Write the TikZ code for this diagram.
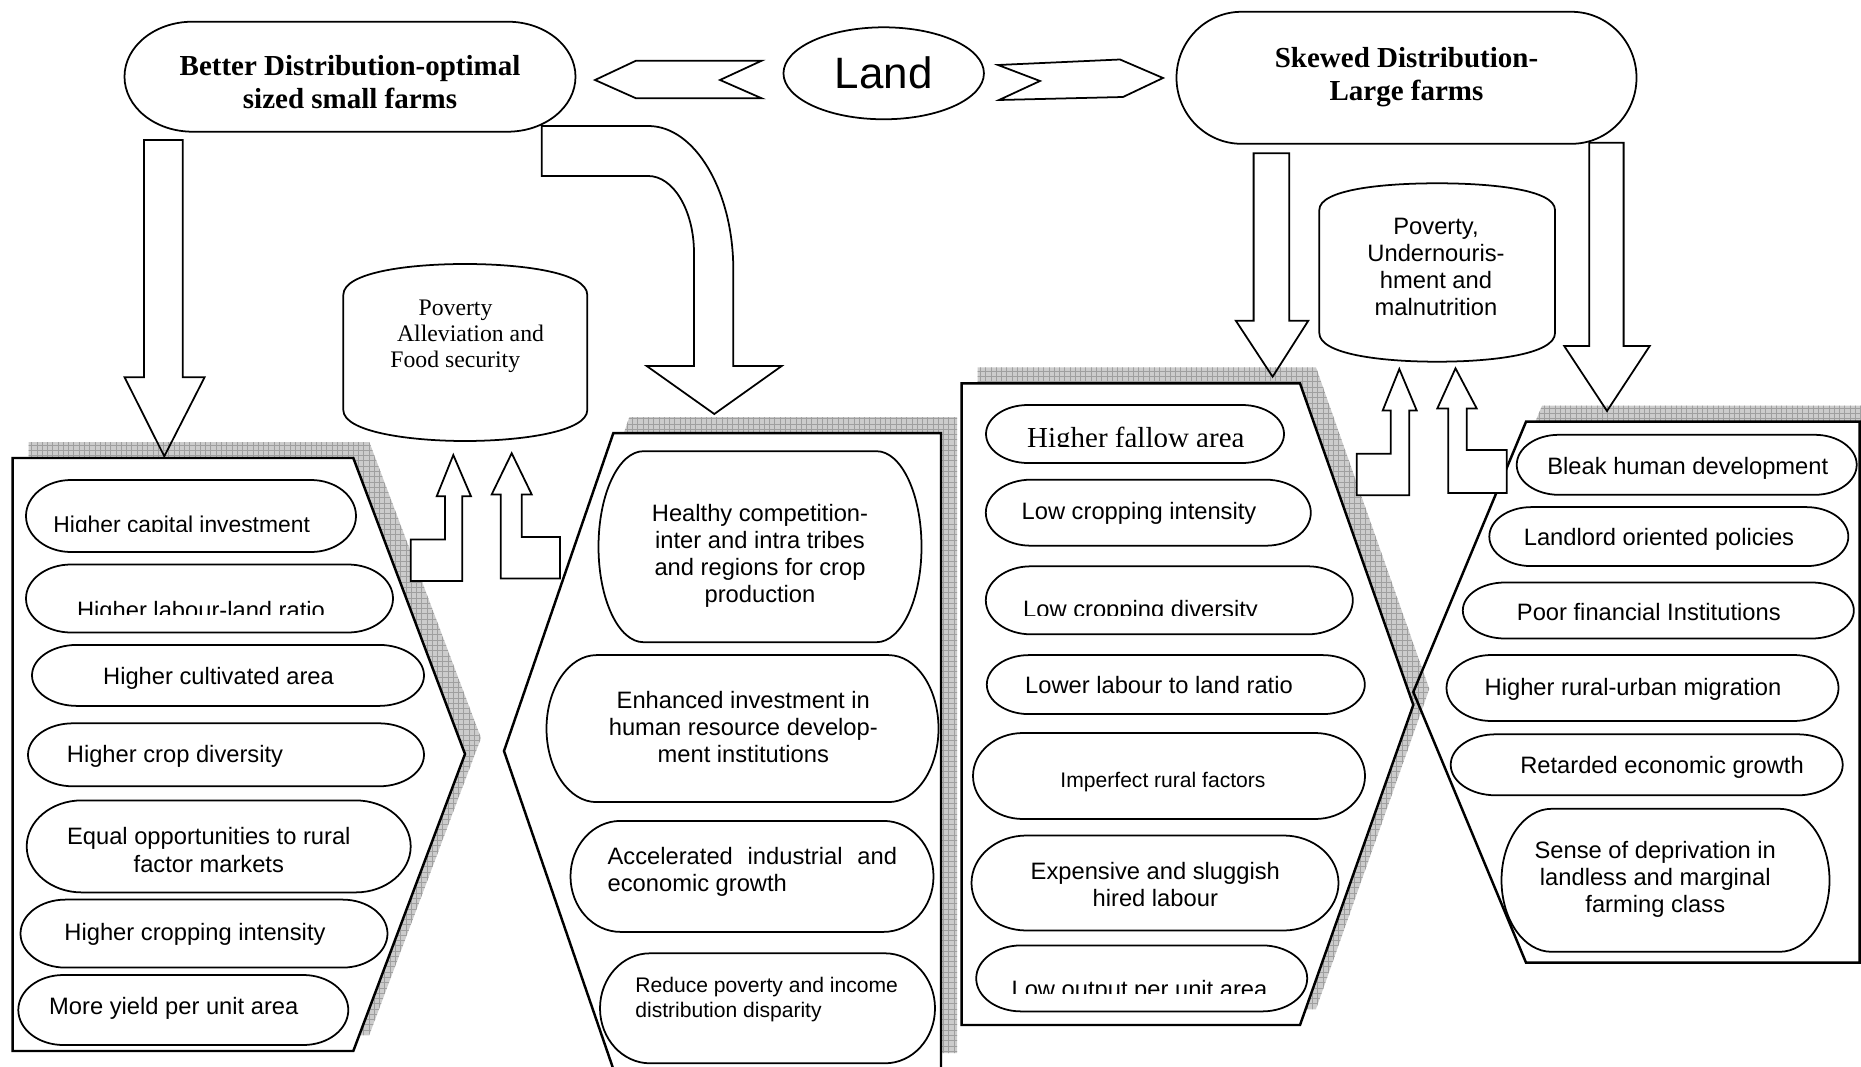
\documentclass[tikz,border=0pt]{standalone}
\usepackage{fontspec}
\setmainfont{Liberation Serif}
\setsansfont{Liberation Sans}
\usetikzlibrary{patterns, shapes.geometric}
\tikzset{
  ovalline/.style={draw, line width=1pt},
  blockarrow/.style={draw, line width=1pt, line join=miter},
  panelbox/.style={draw, line width=1.4pt, fill=white},
  shadowfill/.style={fill=gray!40, postaction={pattern=grid, pattern color=gray!75}},
  itemtxt/.style={font=\sffamily\fontsize{13.5}{15.4}\selectfont, align=center, inner sep=0pt},
  smalltxt/.style={itemtxt, font=\sffamily\fontsize{12}{14.5}\selectfont},
  headtxt/.style={font=\bfseries\fontsize{16.5}{18.8}\selectfont, align=center, inner sep=0pt},
  seriftxt/.style={font=\fontsize{13.5}{14.7}\selectfont, inner sep=0pt},
  pics/oval/.style n args={3}{code={
    \draw[ovalline] (-#1/2+#3,-#2/2) -- (#1/2-#3,-#2/2)
      .. controls (#1/2-0.448*#3,-#2/2) and (#1/2,-0.276*#2) .. (#1/2,0)
      .. controls (#1/2,0.276*#2) and (#1/2-0.448*#3,#2/2) .. (#1/2-#3,#2/2)
      -- (-#1/2+#3,#2/2)
      .. controls (-#1/2+0.448*#3,#2/2) and (-#1/2,0.276*#2) .. (-#1/2,0)
      .. controls (-#1/2,-0.276*#2) and (-#1/2+0.448*#3,-#2/2) .. (-#1/2+#3,-#2/2) -- cycle;
  }}
}
\begin{document}
\begin{tikzpicture}[x=0.02cm, y=-0.02cm]
\useasboundingbox (0,0) rectangle (1861,1067);
\clip (0,0) rectangle (1861,1067);

% shadows of the panels
\fill[shadowfill, shift={(16,-16)}] (12.7,458) -- (353.3,458) -- (465,754) -- (353.3,1051) -- (12.7,1051) -- cycle;
\fill[shadowfill, shift={(16,-16)}] (613.3,433.2) -- (941,433.2) -- (941,1069) -- (613.3,1069) -- (504,751) -- cycle;
\fill[shadowfill, shift={(16,-16)}] (1526,421.7) -- (1880,421.7) -- (1880,962.7) -- (1526,962.7) -- (1413.3,692) -- cycle;
% last panel: white body first, its outline after the next shadow
\fill[white] (1526,421.7) -- (1859.5,421.7) -- (1859.5,962.7) -- (1526,962.7) -- (1413.3,692) -- cycle;
\fill[shadowfill, shift={(16,-16)}] (961.7,383.4) -- (1300,383.4) -- (1413.3,704.9) -- (1300,1025) -- (961.7,1025) -- cycle;

% panels
\draw[panelbox, fill=none] (1526,421.7) -- (1859.5,421.7) -- (1859.5,962.7) -- (1526,962.7) -- (1413.3,692) -- cycle;
\draw[panelbox] (12.7,458) -- (353.3,458) -- (465,754) -- (353.3,1051) -- (12.7,1051) -- cycle;
\draw[panelbox] (613.3,433.2) -- (941,433.2) -- (941,1069) -- (613.3,1069) -- (504,751) -- cycle;
\draw[panelbox] (961.7,383.4) -- (1300,383.4) -- (1413.3,704.9) -- (1300,1025) -- (961.7,1025) -- cycle;

% top row
\pic at (350,76.7) {oval={451}{110}{68}};
\node[headtxt] (better) at (350,82) {Better Distribution-optimal\\sized small farms};
\pic at (1406.5,77.8) {oval={460}{132}{65}};
\node[headtxt] (skewed) at (1406.5,77.5) {Skewed Distribution-\\Large farms};
\node[draw, ellipse, line width=1pt, minimum width=4.01cm, minimum height=1.84cm, inner sep=0pt,
  font=\sffamily\fontsize{25}{30}\selectfont] (land) at (883.7,73.3) {Land};
\draw[blockarrow] (595,80) -- (636,60.7) -- (761.7,60.7) -- (720,80) -- (761.7,98.3) -- (636,98.3) -- cycle;
\draw[blockarrow] (998,65) -- (1120,59.5) -- (1163,78) -- (1123,97) -- (999,100) -- (1040,81) -- cycle;

% cylinders
\draw[ovalline] (343.3,410) -- (343.3,295) .. controls (343.3,272) and (410,264) .. (465,264)
  .. controls (520,264) and (587.3,272) .. (587.3,295) -- (587.3,410)
  .. controls (587.3,432) and (520,441) .. (465,441) .. controls (410,441) and (343.3,432) .. (343.3,410) -- cycle;
\node[seriftxt, align=left, anchor=west] (alleviation) at (390,336)
  {\hspace*{0.566cm}Poverty\\\hspace*{0.134cm}Alleviation and\\Food security};
\draw[ovalline] (1319.3,333) -- (1319.3,210) .. controls (1319.3,190) and (1380,183.3) .. (1437.2,183.3)
  .. controls (1494,183.3) and (1555,190) .. (1555,210) -- (1555,333)
  .. controls (1555,354) and (1494,361.7) .. (1437.2,361.7) .. controls (1380,361.7) and (1319.3,354) .. (1319.3,333) -- cycle;
\node[itemtxt] (malnutrition) at (1436,267) {Poverty,\\Undernouris-\\hment and\\malnutrition};

% left panel
\pic at (191,516) {oval={330}{72}{45}};
\begin{scope}
  \clip (0,495) rectangle (400,531.5);
  \node[itemtxt, font=\sffamily\fontsize{13}{15}\selectfont, anchor=base] (capital) at (181.7,532) {Higher capital investment};
\end{scope}
\pic at (209.5,598.5) {oval={367}{68}{45}};
\begin{scope}
  \clip (0,580) rectangle (400,614);
  \node[itemtxt, anchor=base] (labour) at (201,618) {Higher labour-land ratio};
\end{scope}
\pic at (228,675.4) {oval={392}{61}{45}};
\node[itemtxt, anchor=base] (cultivated) at (218.5,684.3) {Higher cultivated area};
\pic at (226,754.8) {oval={396}{63}{45}};
\node[itemtxt, anchor=base] (diversity) at (175,762) {Higher crop diversity};
\pic at (218.7,846.4) {oval={384}{92}{55}};
\node[itemtxt] (equal) at (208.8,850) {Equal opportunities to rural\\factor markets};
\pic at (204,933.6) {oval={367}{68}{45}};
\node[itemtxt, anchor=base] (intensity) at (195,940.2) {Higher cropping intensity};
\pic at (183.3,1010) {oval={330}{70}{45}};
\node[itemtxt, anchor=base] (yield) at (173.8,1014.4) {More yield per unit area};

% middle panel
\pic at (760,546.7) {oval={323}{191}{45}};
\node[itemtxt] (healthy) at (760,555.7) {Healthy competition-\\inter and intra tribes\\and regions for crop\\production};
\pic at (742.5,728.6) {oval={392}{147}{50}};
\node[itemtxt] (enhanced) at (743.3,727.2) {Enhanced investment in\\human resource develop-\\ment institutions};
\pic at (752,876.4) {oval={363}{111}{50}};
\node[itemtxt, align=left, anchor=west] (accelerated) at (607.3,871.7)
  {\makebox[5.788cm][s]{Accelerated industrial and}\\economic growth};
\pic at (767.5,1008.3) {oval={335}{110}{50}};
\node[smalltxt, align=left, anchor=west] (reduce) at (635,999.7) {Reduce poverty and income\\distribution disparity};

% right panel, first column
\pic at (1135,434) {oval={298}{58}{42}};
\begin{scope}
  \clip (980,415) rectangle (1290,446.5);
  \node[seriftxt, font=\fontsize{16.5}{18}\selectfont, anchor=base] (fallow) at (1135.8,447) {Higher fallow area};
\end{scope}
\pic at (1148.3,512.7) {oval={325}{66}{45}};
\node[itemtxt, anchor=base] (lowint) at (1139,519.6) {Low cropping intensity};
\pic at (1169.3,600.3) {oval={367}{68}{45}};
\begin{scope}
  \clip (980,585) rectangle (1350,615.8);
  \node[itemtxt, anchor=base] (lowdiv) at (1140.5,617) {Low cropping diversity};
\end{scope}
\pic at (1175.8,684.6) {oval={378}{59}{42}};
\node[itemtxt, anchor=base] (lowlab) at (1159,693.2) {Lower labour to land ratio};
\pic at (1169,776) {oval={392}{86}{50}};
\node[smalltxt, anchor=base] (imperfect) at (1163,787) {Imperfect rural factors};
\pic at (1155,883) {oval={367}{95}{55}};
\node[itemtxt] (expensive) at (1155.3,884.8) {Expensive and sluggish\\hired labour};
\pic at (1141.7,978.4) {oval={331}{66}{45}};
\begin{scope}
  \clip (980,965) rectangle (1300,993.5);
  \node[itemtxt, anchor=base] (lowout) at (1139.5,997) {Low output per unit area};
\end{scope}

% right panel, second column
\pic at (1686.7,464.8) {oval={340}{60}{42}};
\node[itemtxt, anchor=base] (bleak) at (1687.8,474) {Bleak human development};
\pic at (1668.8,536.6) {oval={359}{59}{42}};
\node[itemtxt, anchor=base] (landlord) at (1659,545.5) {Landlord oriented policies};
\pic at (1658.3,610.5) {oval={391}{56}{42}};
\node[itemtxt, anchor=base] (financial) at (1648.8,620.9) {Poor financial Institutions};
\pic at (1642.5,688) {oval={392}{66}{45}};
\node[itemtxt, anchor=base] (migration) at (1633,695.3) {Higher rural-urban migration};
\pic at (1646.7,764.8) {oval={392}{61}{45}};
\node[itemtxt, anchor=base] (retarded) at (1662,773.4) {Retarded economic growth};
\pic at (1665.5,880.3) {oval={328}{143}{50}};
\node[itemtxt] (sense) at (1655.3,879.6) {Sense of deprivation in\\landless and marginal\\farming class};

% block arrows down
\draw[blockarrow] (144,140) -- (182.7,140) -- (182.7,377.3) -- (204.6,377.3) -- (164.3,456.3) -- (124.6,377.3) -- (144,377.3) -- cycle;
\draw[blockarrow] (541.7,126) -- (648.3,126) .. controls (695,126) and (733.3,191) .. (733.3,270) -- (733.3,366)
  -- (781.7,366) -- (714.3,414) -- (646.7,366) -- (694,366) -- (694,253)
  .. controls (694,210.6) and (673.4,176) .. (648.3,176) -- (541.7,176) -- cycle;
\draw[blockarrow] (1253.6,153.3) -- (1289.3,153.3) -- (1289.3,320.7) -- (1308.3,320.7) -- (1272.6,376.7) -- (1235.8,320.7) -- (1253.6,320.7) -- cycle;
\draw[blockarrow] (1589.2,142.7) -- (1623.6,142.7) -- (1623.6,346) -- (1649.7,346) -- (1607,411) -- (1564.2,346) -- (1589.2,346) -- cycle;

% bent arrows up into the cylinders
\draw[blockarrow, fill=white] (453.3,455) -- (471,496.3) -- (462.3,496.3) -- (462.3,581) -- (410.7,581) -- (410.7,539.6) -- (445,539.6) -- (445,496.3) -- (436.7,496.3) -- cycle;
\draw[blockarrow, fill=white] (511.7,453.2) -- (531.7,494.4) -- (521.7,494.4) -- (521.7,537) -- (560,537) -- (560,578.6) -- (500.7,578.6) -- (500.7,494.4) -- (491.7,494.4) -- cycle;
\draw[blockarrow, fill=white] (1399.3,369) -- (1416.7,410.5) -- (1409.3,410.5) -- (1409.3,495.3) -- (1356.7,495.3) -- (1356.7,453.8) -- (1390.7,453.8) -- (1390.7,410.5) -- (1382.7,410.5) -- cycle;
\draw[blockarrow, fill=white] (1455.5,368.3) -- (1476.7,408.5) -- (1466.7,408.5) -- (1466.7,450.1) -- (1506.7,450.1) -- (1506.7,493.1) -- (1448.3,493.1) -- (1448.3,408.5) -- (1437.3,408.5) -- cycle;
\end{tikzpicture}
\end{document}
